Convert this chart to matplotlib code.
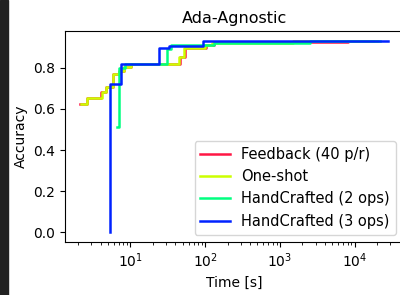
import numpy as np
import matplotlib
matplotlib.use("Agg")
import matplotlib.pyplot as plt

# best-so-far accuracy over time (steps-post)
fb_t = [2.15, 2.6, 4.1, 4.7, 5.8, 7.0, 8.2, 10.2, 46, 54, 102, 130, 8000, 17400]
fb_acc = [0.623, 0.652, 0.683, 0.704, 0.77, 0.785, 0.805, 0.818, 0.85, 0.895, 0.91, 0.925, 0.929, 0.929]

os_t = [2.22, 2.65, 4.2, 4.8, 5.9, 7.1, 8.3, 10.3, 45, 52, 100, 125, 1500, 20000]
os_acc = [0.623, 0.652, 0.683, 0.704, 0.77, 0.785, 0.805, 0.818, 0.85, 0.895, 0.91, 0.922, 0.93, 0.93]

hc2_t = [6.7, 6.75, 7.0, 8.5, 31, 35, 130, 2500, 22000]
hc2_acc = [0.51, 0.51, 0.80, 0.818, 0.89, 0.91, 0.922, 0.93, 0.93]

hc3_t = [5.3, 5.35, 7.6, 24.5, 33, 95, 1700, 27500]
hc3_acc = [0.0, 0.72, 0.818, 0.895, 0.907, 0.928, 0.932, 0.932]

labels = ["Feedback (40 p/r)", "One-shot", "HandCrafted (2 ops)", "HandCrafted (3 ops)"]
colors = ["#ff1744", "#ccff00", "#00ff80", "#0022ff"]

fig = plt.figure(figsize=(4, 2.95), dpi=100)
ax = fig.add_axes([0.1625, 0.18, 0.845, 0.715])

series = [(fb_t, fb_acc), (os_t, os_acc), (hc2_t, hc2_acc), (hc3_t, hc3_acc)]
for (t, acc), lab, c in zip(series, labels, colors):
    ax.plot(t, acc, drawstyle="steps-post", color=c, label=lab, lw=1.8)

ax.set_xscale("log")
ax.set_title("Ada-Agnostic", fontsize=11.5)
ax.set_xlabel("Time [s]")
ax.set_ylabel("Accuracy")
ax.legend(loc="lower right", fontsize=10.5)

# dark screenshot edge on the left
fig.patches.append(plt.Rectangle((0, 0), 8 / 400, 1, transform=fig.transFigure,
                                 color="#222222", zorder=0))

fig.savefig("out.png", dpi=100)
